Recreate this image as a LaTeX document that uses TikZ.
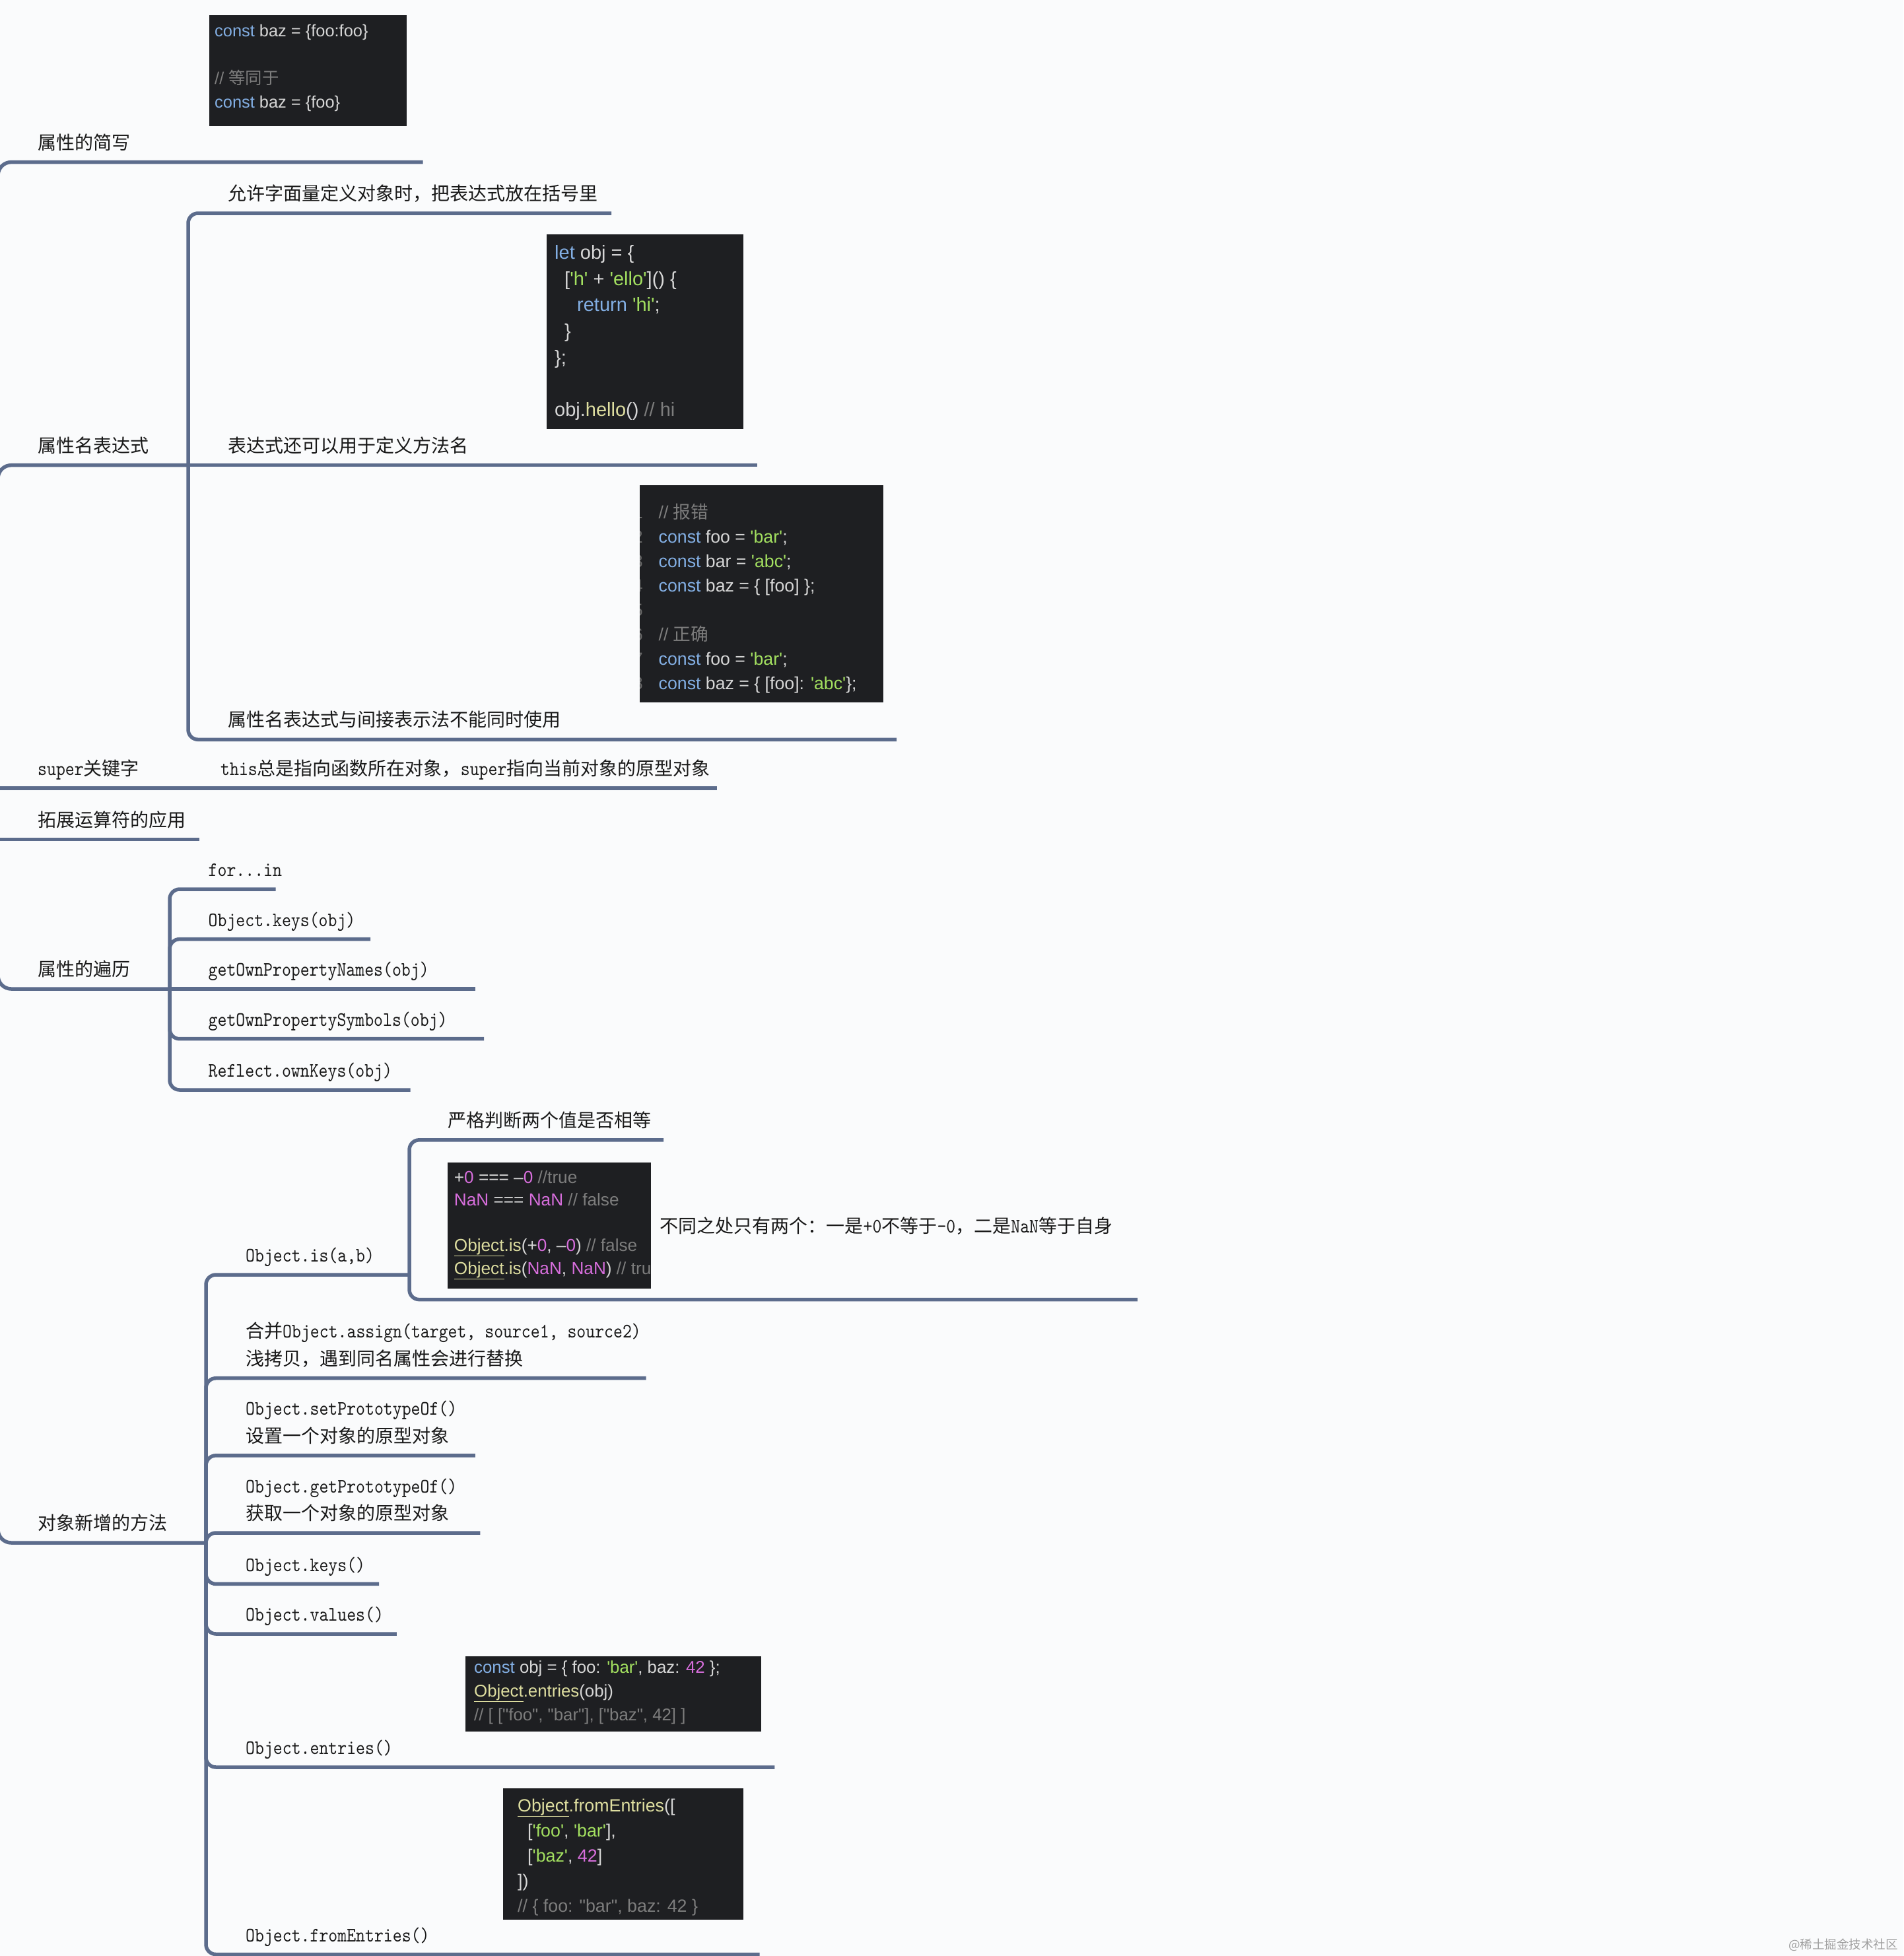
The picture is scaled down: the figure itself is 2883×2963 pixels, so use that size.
\documentclass[tikz,border=0pt]{standalone}
\usepackage{fontspec}
\newfontfamily\zhfont{Noto Sans CJK SC}
\newfontfamily\codefont{Liberation Sans}
\newfontfamily\enfont{lmmono10-regular.otf}[FakeStretch=0.855]
\newcommand\zh[1]{{\zhfont #1}}
\newcommand\en[1]{{\enfont\fontsize{31}{41.6}\selectfont #1}}
\definecolor{bgc}{RGB}{250,251,252}
\definecolor{linec}{RGB}{92,108,140}
\definecolor{labelc}{RGB}{25,25,25}
\definecolor{codebg}{RGB}{30,31,34}
\definecolor{cdef}{RGB}{214,214,214}
\definecolor{ckw}{RGB}{131,175,228}
\definecolor{cstr}{RGB}{163,224,96}
\definecolor{ccom}{RGB}{125,125,125}
\definecolor{cnum}{RGB}{215,110,220}
\definecolor{cfn}{RGB}{222,222,160}
\definecolor{lnc}{RGB}{105,105,105}
\definecolor{wmc}{RGB}{160,160,160}
\newcommand\cKw[1]{\textcolor{ckw}{#1}}
\newcommand\cSt[1]{\textcolor{cstr}{#1}}
\newcommand\cCm[1]{\textcolor{ccom}{#1}}
\newcommand\cNm[1]{\textcolor{cnum}{#1}}
\newcommand\cFn[1]{\textcolor{cfn}{#1}}
\newcommand\cOb{\textcolor{cfn}{\underline{Object}}}
\tikzset{
  conn/.style={draw=linec, line width=5.5pt, rounded corners=15pt},
  rootconn/.style={conn, rounded corners=20pt},
  lbl/.style={inner sep=0pt, anchor=base west, text=labelc, font=\zhfont\fontsize{28}{41.6}\selectfont},
  codebox/.style={fill=codebg, inner sep=0pt, anchor=north west, draw=none},
  codetxt/.style={inner sep=0pt, anchor=base west, text=cdef},
  lnum/.style={inner sep=0pt, anchor=base east, text=lnc, font=\codefont\fontsize{26.7}{37}\selectfont},
}
\begin{document}
\begin{tikzpicture}[x=1pt,y=-1pt]
\useasboundingbox (0,0) rectangle (2883,2963);
\fill[bgc] (0,0) rectangle (2883,2963);

% ---------- connectors ----------
\coordinate (root) at (-3,1232);
\coordinate (r3) at (-3,1194);
\coordinate (r4) at (-3,1271.5);
\coordinate (e1) at (640.5,245.6);
\coordinate (j2) at (285,704.7);
\coordinate (e3) at (1086,1194);
\coordinate (e4) at (302,1271.5);
\coordinate (j5) at (257,1498);
\coordinate (j6) at (312,2337);
\draw[rootconn] (root) |- (e1);
\draw[rootconn] (root) |- (j2);
\draw[conn] (r3) -- (e3);
\draw[conn] (r4) -- (e4);
\draw[rootconn] (root) |- (j5);
\draw[rootconn] (root) |- (j6);

\coordinate (e2a) at (926,323);
\coordinate (e2b) at (1147,704.7);
\coordinate (e2c) at (1358,1120.3);
\draw[conn] (j2) |- (e2a);
\draw[conn] (j2) -- (e2b);
\draw[conn] (j2) |- (e2c);

\coordinate (e5a) at (417.5,1347);
\coordinate (e5b) at (561,1422.6);
\coordinate (e5c) at (720,1498);
\coordinate (e5d) at (733,1573.7);
\coordinate (e5e) at (621.6,1651);
\draw[conn] (j5) |- (e5a);
\draw[conn] (j5) |- (e5b);
\draw[conn] (j5) -- (e5c);
\draw[conn] (j5) |- (e5d);
\draw[conn] (j5) |- (e5e);

\coordinate (j6a) at (620,1931);
\coordinate (e6a1) at (1005,1726.8);
\coordinate (e6a2) at (1723,1968.6);
\coordinate (e6b) at (978.7,2087.7);
\coordinate (e6c) at (719.8,2204.8);
\coordinate (e6d) at (727.4,2322);
\coordinate (e6e) at (574,2399.4);
\coordinate (e6f) at (600.8,2475);
\coordinate (e6g) at (1173.3,2677);
\coordinate (e6h) at (1150.6,2960.5);
\draw[conn] (j6) |- (j6a);
\draw[conn] (j6a) |- (e6a1);
\draw[conn] (j6a) |- (e6a2);
\draw[conn] (j6) |- (e6b);
\draw[conn] (j6) |- (e6c);
\draw[conn] (j6) |- (e6d);
\draw[conn] (j6) |- (e6e);
\draw[conn] (j6) |- (e6f);
\draw[conn] (j6) |- (e6g);
\draw[conn] (j6) |- (e6h);

% ---------- labels ----------
\node[lbl] (n1) at (57,226.2) {属性的简写};
\node[lbl] (n2) at (57,685.3) {属性名表达式};
\node[lbl] (n3) at (57,1174.6) {\en{super}关键字};
\node[lbl] (n3a) at (334,1174.6) {\en{this}总是指向函数所在对象，\en{super}指向当前对象的原型对象};
\node[lbl] (n4) at (57,1252) {拓展运算符的应用};
\node[lbl] (n5) at (57,1478.6) {属性的遍历};
\node[lbl] (n6) at (57,2317.6) {对象新增的方法};

\node[lbl] (n2a) at (345.7,303.6) {允许字面量定义对象时，把表达式放在括号里};
\node[lbl] (n2b) at (345.7,685.3) {表达式还可以用于定义方法名};
\node[lbl] (n2c) at (345.7,1100.9) {属性名表达式与间接表示法不能同时使用};

\node[lbl] (n5a) at (315.5,1327.6) {\en{for...in}};
\node[lbl] (n5b) at (315.5,1403.2) {\en{Object.keys(obj)}};
\node[lbl] (n5c) at (315.5,1478.6) {\en{getOwnPropertyNames(obj)}};
\node[lbl] (n5d) at (315.5,1554.3) {\en{getOwnPropertySymbols(obj)}};
\node[lbl] (n5e) at (315.5,1631.6) {\en{Reflect.ownKeys(obj)}};

\node[lbl] (n6a) at (372,1911.6) {\en{Object.is(a,b)}};
\node[lbl] (n6a1) at (678,1707.4) {严格判断两个值是否相等};
\node[lbl] (n6a2) at (999.5,1867.6) {不同之处只有两个：一是\en{+0}不等于\en{-0}，二是\en{NaN}等于自身};
\node[lbl] (n6b) at (372,2068.3) {\begin{tabular}[b]{@{}l@{}}合并\en{Object.assign(target, source1, source2)}\\浅拷贝，遇到同名属性会进行替换\end{tabular}};
\node[lbl] (n6c) at (372,2185.4) {\begin{tabular}[b]{@{}l@{}}\en{Object.setPrototypeOf()}\\设置一个对象的原型对象\end{tabular}};
\node[lbl] (n6d) at (372,2302.6) {\begin{tabular}[b]{@{}l@{}}\en{Object.getPrototypeOf()}\\获取一个对象的原型对象\end{tabular}};
\node[lbl] (n6e) at (372,2380) {\en{Object.keys()}};
\node[lbl] (n6f) at (372,2455.6) {\en{Object.values()}};
\node[lbl] (n6g) at (372,2657.6) {\en{Object.entries()}};
\node[lbl] (n6h) at (372,2941) {\en{Object.fromEntries()}};

% ---------- code boxes ----------
\node[codebox, minimum width=299pt, minimum height=168pt] (box1) at (317,23) {};
\node[codetxt, font=\codefont\fontsize{25.4}{36}\selectfont] (t1) at (325,55) {\begin{tabular}[t]{@{}l@{}}
\cKw{const} baz = \{foo:foo\}\\
\\
\cCm{// {\zhfont 等同于}}\\
\cKw{const} baz = \{foo\}
\end{tabular}};

\node[codebox, minimum width=298.5pt, minimum height=295pt] (box2) at (827.5,355) {};
\node[codetxt, font=\codefont\fontsize{29}{39.7}\selectfont] (t2) at (840,392.5) {\begin{tabular}[t]{@{}l@{}}
\cKw{let} obj = \{\\
\hspace*{15pt}[\cSt{'h'} + \cSt{'ello'}]() \{\\
\hspace*{34pt}\cKw{return} \cSt{'hi'};\\
\hspace*{15pt}\}\\
\};\\
\\
obj.\cFn{hello}() \cCm{// hi}
\end{tabular}};

\node[codebox, minimum width=368.6pt, minimum height=328.7pt] (box3) at (969,735) {};
\begin{scope}
\clip (box3.north west) rectangle (box3.south east);
\foreach \i in {1,...,8} \node[lnum] (ln\i) at (974,{785+(\i-1)*37}) {\i};
\end{scope}
\node[codetxt, font=\codefont\fontsize{26.7}{37}\selectfont] (t3) at (997.5,785) {\begin{tabular}[t]{@{}l@{}}
\cCm{// {\zhfont 报错}}\\
\cKw{const} foo = \cSt{'bar'};\\
\cKw{const} bar = \cSt{'abc'};\\
\cKw{const} baz = \{ [foo] \};\\
\\
\cCm{// {\zhfont 正确}}\\
\cKw{const} foo = \cSt{'bar'};\\
\cKw{const} baz = \{ [foo]: \cSt{'abc'}\};
\end{tabular}};

\node[codebox, minimum width=308pt, minimum height=190.8pt] (box4) at (678,1761) {};
\begin{scope}
\clip (box4.north west) rectangle (box4.south east);
\node[codetxt, font=\codefont\fontsize{26.2}{34.6}\selectfont] (t4) at (687.7,1792) {\begin{tabular}[t]{@{}l@{}}
+\cNm{0} === –\cNm{0} \cCm{//true}\\
\cNm{NaN} === \cNm{NaN} \cCm{// false}\\
\\
\cOb\cFn{.is}(+\cNm{0}, –\cNm{0}) \cCm{// false}\\
\cOb\cFn{.is}(\cNm{NaN}, \cNm{NaN}) \cCm{// true}
\end{tabular}};
\end{scope}

\node[codebox, minimum width=447.8pt, minimum height=113.4pt] (box5) at (704.7,2509) {};
\node[codetxt, font=\codefont\fontsize{25.8}{35.9}\selectfont] (t5) at (718,2534.5) {\begin{tabular}[t]{@{}l@{}}
\cKw{const} obj = \{ foo: \cSt{'bar'}, baz: \cNm{42} \};\\
\cOb\cFn{.entries}(obj)\\
\cCm{// [ ["foo", "bar"], ["baz", 42] ]}
\end{tabular}};

\node[codebox, minimum width=364.6pt, minimum height=198.4pt] (box6) at (761.4,2709) {};
\node[codetxt, font=\codefont\fontsize{26.8}{38}\selectfont] (t6) at (784,2744.5) {\begin{tabular}[t]{@{}l@{}}
\cOb\cFn{.fromEntries}([\\
\hspace*{15pt}[\cSt{'foo'}, \cSt{'bar'}],\\
\hspace*{15pt}[\cSt{'baz'}, \cNm{42}]\\
])\\
\cCm{// \{ foo: "bar", baz: 42 \}}
\end{tabular}};

% ---------- watermark ----------
\node[inner sep=0pt, anchor=base east, text=wmc, font=\zhfont\fontsize{18.5}{22}\selectfont] (wm) at (2875,2952) {@稀土掘金技术社区};
\end{tikzpicture}
\end{document}
